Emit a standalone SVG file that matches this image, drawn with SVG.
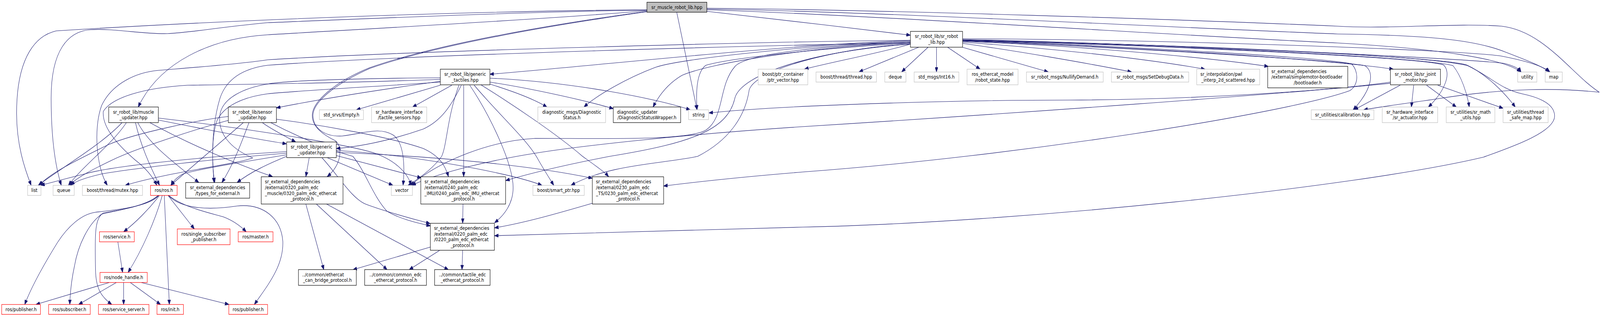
<svg xmlns="http://www.w3.org/2000/svg" width="4724" height="811" viewBox="0 0 4724 811" preserveAspectRatio="none">
<style>
svg:root{width:100vw;height:100vh}
.e{fill:none;stroke:#191970;stroke-width:1.1;marker-end:url(#a)}
rect{fill:#fff;stroke-width:1.2}
.doc rect{stroke:#000}
.und rect{stroke:#bfbfbf}
.ros rect{stroke:#ff0000}
.top rect{fill:#bfbfbf;stroke:#000}
text{font-family:'DejaVu Sans','Liberation Sans',sans-serif;font-size:12.5px;fill:#000}
.c{text-anchor:middle}
.l{text-anchor:start}
</style>
<defs>
<marker id="a" markerUnits="userSpaceOnUse" viewBox="0 0 12 9" refX="12" refY="4.5" markerWidth="12" markerHeight="9" orient="auto">
<path d="M0,0L12,4.5L0,9Z" fill="#191970" stroke="#191970"/>
</marker>
</defs>
<rect x="0" y="0" width="4724" height="811" fill="#fff" stroke="none"/>
<g id="edges">
<path class="e" d="M2087,29 C2250,45 2500,70 2688,90"/>
<path class="e" d="M1910,27 C1700,45 1000,78 790,89 C620,98 470,160 408,274"/>
<path class="e" d="M1998,31 L2058,281"/>
<path class="e" d="M1910,25 C1400,28 700,50 166,79 C110,90 49,140 49,290 C49,370 72,430 92,474"/>
<path class="e" d="M1910,26 C1500,30 900,55 790,58 C640,70 560,84 494,86 C430,88 330,72 267,76 C200,80 151,130 151,250 C151,360 165,430 181,474"/>
<path class="e" d="M1910,29 C1650,60 1300,110 1092,173 C1000,205 925,255 922,293 C920,325 955,345 990,360 C1012,375 1010,420 966,452"/>
<path class="e" d="M1910,30 C1650,62 1300,112 1092,175 C1000,210 925,258 924,295 C925,330 960,350 1010,348 C1080,340 1120,325 1160,345 C1195,365 1195,430 1190,474"/>
<path class="e" d="M2087,21 C2600,25 3500,50 3950,67 C4100,75 4300,58 4434,67 C4560,80 4640,190 4722,236 C4600,225 4450,224 4242,253 C4150,265 4075,273 4026,281"/>
<path class="e" d="M2087,23 C2600,30 3500,72 3950,87 C4200,90 4350,100 4444,133 C4510,155 4555,170 4574,184"/>
<path class="e" d="M2087,25 C2600,40 3500,92 3950,110 C4250,125 4440,150 4490,184"/>
<path class="e" d="M2688,104 C2300,115 1800,165 1446,190"/>
<path class="e" d="M2688,106 C2400,115 2000,150 1933,173 C1850,200 1760,245 1724,274"/>
<path class="e" d="M2688,108 C2400,120 2100,160 2013,193 C1970,215 1945,245 1928,274"/>
<path class="e" d="M2688,110 C2400,125 2150,150 2084,167 C2055,185 2055,240 2058,281"/>
<path class="e" d="M2688,113 C2600,135 2450,160 2375,177"/>
<path class="e" d="M2712,121 L2536,184"/>
<path class="e" d="M2740,121 L2662,184"/>
<path class="e" d="M2765,121 L2765,184"/>
<path class="e" d="M2798,121 L2894,177"/>
<path class="e" d="M2842,121 L3095,184"/>
<path class="e" d="M2842,111 C3000,130 3200,160 3341,184"/>
<path class="e" d="M2842,108 C3050,120 3350,145 3558,177"/>
<path class="e" d="M2842,106 C3150,115 3550,145 3745,170"/>
<path class="e" d="M2842,104 C3300,118 3900,150 4114,177"/>
<path class="e" d="M2842,105 C3400,125 3950,155 4030,168 C4060,185 4050,230 3995,281"/>
<path class="e" d="M2842,104 C3500,118 4200,148 4262,166 C4285,185 4270,230 4217,274"/>
<path class="e" d="M2842,103 C3500,116 4220,148 4290,168 C4315,195 4332,240 4338,274"/>
<path class="e" d="M2842,103 C3500,114 4250,145 4330,166 C4390,190 4445,240 4474,274"/>
<path class="e" d="M2842,101 C3400,112 4300,148 4440,162 C4470,168 4485,176 4491,184"/>
<path class="e" d="M2842,99 C3500,102 4300,128 4430,143 C4520,158 4560,172 4576,184"/>
<path class="e" d="M2842,102 C3500,115 4200,140 4333,168 C4400,195 4430,228 4494,240 C4560,252 4590,272 4590,297 C4590,340 4450,380 4380,402 C4000,480 3000,570 2370,581 C2000,592 1650,600 1460,603"/>
<path class="e" d="M2842,103 C3400,122 3880,145 3990,163 C4012,182 4012,218 3985,232 C3800,290 3000,400 2370,440 C2200,452 2050,466 1959,476"/>
<path class="e" d="M2688,112 C2450,125 2230,180 2212,230 C2200,300 2150,360 2060,400 C1950,420 1800,420 1686,474"/>
<path class="e" d="M2688,108 C2400,118 2200,140 2170,170 C2120,220 2140,300 2084,333 C2030,360 1800,354 1580,354 C1450,360 1300,410 1212,474"/>
<path class="e" d="M2688,113 C2400,130 2190,190 2170,250 C2150,330 2050,365 1800,400 C1650,425 1560,445 1493,462"/>
<path class="e" d="M2688,110 C2300,115 1200,140 790,167 C720,175 670,200 650,250 C625,320 625,400 632,467"/>
<path class="e" d="M2688,103 C2300,106 1200,130 790,153 C700,165 520,176 468,180 C400,185 330,215 300,270 C275,330 285,430 317,474"/>
<path class="e" d="M1300,208 C1100,232 920,258 816,276"/>
<path class="e" d="M1300,218 L1052,281"/>
<path class="e" d="M1334,218 L1218,274"/>
<path class="e" d="M1362,218 C1330,275 1300,310 1250,330 C1150,360 1060,375 993,380"/>
<path class="e" d="M1369,218 L1369,452"/>
<path class="e" d="M1387,218 C1450,300 1515,420 1515,480 C1515,520 1490,550 1460,570"/>
<path class="e" d="M1446,200 C1700,210 1950,255 2038,281"/>
<path class="e" d="M1446,210 C1560,225 1720,255 1811,278"/>
<path class="e" d="M1446,215 C1520,235 1580,255 1615,274"/>
<path class="e" d="M1420,217 C1500,260 1640,340 1720,400 C1760,425 1785,440 1797,452"/>
<path class="e" d="M1400,218 C1480,300 1560,360 1590,410 C1610,440 1625,460 1635,474"/>
<path class="e" d="M1300,203 C1100,210 800,215 554,218 C420,225 330,250 305,285 C300,330 360,380 400,410 C430,430 450,450 463,474"/>
<path class="e" d="M1300,210 C1100,222 880,232 790,240 C720,248 660,270 640,310 C625,350 625,420 634,467"/>
<path class="e" d="M1355,218 C1320,300 1320,370 1304,400 C1280,430 1240,455 1205,474"/>
<path class="e" d="M1300,199 C1100,200 850,205 790,215 C720,225 660,250 650,290 C640,340 680,380 746,404 C700,420 500,440 370,474"/>
<path class="e" d="M775,314 C800,330 840,348 873,363"/>
<path class="e" d="M674,298 C600,305 400,340 320,370 C250,400 150,440 116,474"/>
<path class="e" d="M674,308 C580,330 400,380 330,410 C270,435 225,455 206,474"/>
<path class="e" d="M718,314 L504,474"/>
<path class="e" d="M735,314 C715,360 690,420 655,467"/>
<path class="e" d="M816,305 C950,320 1150,350 1250,380 C1300,400 1315,425 1324,452"/>
<path class="e" d="M800,314 C900,360 1000,390 1042,400 C1080,440 1100,500 1142,540 C1180,560 1230,570 1271,578"/>
<path class="e" d="M467,307 C600,330 750,355 846,368"/>
<path class="e" d="M467,302 C700,325 1000,365 1100,390 C1170,410 1205,445 1214,474"/>
<path class="e" d="M360,314 C300,370 180,430 113,474"/>
<path class="e" d="M373,314 C330,370 250,420 202,474"/>
<path class="e" d="M400,314 C415,370 440,420 471,474"/>
<path class="e" d="M407,314 C440,370 520,420 587,467"/>
<path class="e" d="M443,314 C560,370 700,420 805,452"/>
<path class="e" d="M846,388 C700,395 350,420 250,445 C180,460 140,470 120,474"/>
<path class="e" d="M846,392 C650,405 400,430 300,445 C250,455 220,465 209,474"/>
<path class="e" d="M846,396 C750,410 600,430 540,445 C520,455 510,465 505,474"/>
<path class="e" d="M846,400 C790,420 740,440 700,467"/>
<path class="e" d="M913,403 L903,452"/>
<path class="e" d="M965,403 L1160,474"/>
<path class="e" d="M950,403 C1000,450 1040,510 1082,523 C1150,545 1220,560 1270,572"/>
<path class="e" d="M993,398 L1244,455"/>
<path class="e" d="M993,390 C1300,400 1580,425 1749,456"/>
<path class="e" d="M993,385 C1200,395 1500,440 1600,474"/>
<path class="e" d="M1367,522 L1366,571"/>
<path class="e" d="M1749,520 C1650,545 1550,570 1460,583"/>
<path class="e" d="M903,522 L956,690"/>
<path class="e" d="M934,522 L1143,690"/>
<path class="e" d="M964,522 L1324,690"/>
<path class="e" d="M1271,632 L1042,690"/>
<path class="e" d="M1299,640 L1208,690"/>
<path class="e" d="M1366,640 L1364,690"/>
<path class="e" d="M471,500 C440,535 400,570 365,593"/>
<path class="e" d="M479,500 C460,560 420,640 378,697"/>
<path class="e" d="M485,500 L500,779"/>
<path class="e" d="M496,500 L574,586"/>
<path class="e" d="M498,500 C540,530 620,545 660,555 C690,565 710,578 727,593"/>
<path class="e" d="M497,500 C530,530 600,540 700,527 C780,520 830,560 835,617 C838,680 790,730 751,779"/>
<path class="e" d="M469,500 C440,530 330,538 282,543 C240,548 200,580 170,620 C120,690 90,740 73,779"/>
<path class="e" d="M468,500 C430,530 330,540 305,545 C260,570 230,630 220,680 C210,720 207,750 206,779"/>
<path class="e" d="M467,500 C430,530 330,540 300,548 C280,565 280,600 282,690 C283,740 300,760 330,779"/>
<path class="e" d="M348,619 L362,697"/>
<path class="e" d="M322,723 L106,779"/>
<path class="e" d="M343,723 L232,779"/>
<path class="e" d="M365,723 L365,779"/>
<path class="e" d="M385,723 L474,779"/>
<path class="e" d="M418,723 L676,779"/>
<path class="e" d="M4134,218 L3998,281"/>
<path class="e" d="M4174,218 L4167,274"/>
<path class="e" d="M4212,218 L4300,274"/>
<path class="e" d="M4245,218 L4438,277"/>
<path class="e" d="M4105,210 C3900,235 3500,255 3160,256 C2800,256 2300,270 2093,289"/>
<path class="e" d="M4105,213 C3800,240 3000,290 2370,324 C2000,345 1700,375 1580,392 C1450,410 1300,440 1216,474"/>
</g>
<g id="n_top" class="top"><rect x="1910" y="5.7" width="177" height="25.6"/><text class="c" x="1998.5" y="22.8">sr_muscle_robot_lib.hpp</text></g>
<g id="n_sr_robot_lib" class="doc"><rect x="2688" y="80.3" width="154" height="40.4"/><text class="c" x="2765" y="97.5">sr_robot_lib/sr_robot</text><text class="c" x="2765" y="112.2">_lib.hpp</text></g>
<g id="n_muscle_updater" class="doc"><rect x="321" y="273.7" width="146.5" height="40"/><text class="c" x="394.2" y="290.7">sr_robot_lib/muscle</text><text class="c" x="394.2" y="305.4">_updater.hpp</text></g>
<g id="n_sensor_updater" class="doc"><rect x="674" y="273.7" width="142" height="40"/><text class="c" x="745" y="290.7">sr_robot_lib/sensor</text><text class="c" x="745" y="305.4">_updater.hpp</text></g>
<g id="n_generic_tactiles" class="doc"><rect x="1300" y="177" width="146.5" height="40"/><text class="c" x="1373.2" y="194">sr_robot_lib/generic</text><text class="c" x="1373.2" y="208.7">_tactiles.hpp</text></g>
<g id="n_empty" class="und"><rect x="943" y="281" width="130" height="25"/><text class="c" x="1008" y="297.8">std_srvs/Empty.h</text></g>
<g id="n_tactile_sensors" class="und"><rect x="1097" y="273.7" width="163" height="40"/><text class="c" x="1178.5" y="290.7">sr_hardware_interface</text><text class="c" x="1178.5" y="305.4">/tactile_sensors.hpp</text></g>
<g id="n_generic_updater" class="doc"><rect x="846.4" y="363.3" width="146.6" height="40"/><text class="c" x="919.7" y="380.3">sr_robot_lib/generic</text><text class="c" x="919.7" y="395">_updater.hpp</text></g>
<g id="n_diag_status" class="und"><rect x="1588" y="273.7" width="200" height="40"/><text class="c" x="1688" y="290.7">diagnostic_msgs/Diagnostic</text><text class="c" x="1688" y="305.4">Status.h</text></g>
<g id="n_diag_wrapper" class="doc"><rect x="1810.7" y="273.7" width="199" height="40"/><text class="l" x="1821.7" y="290.7">diagnostic_updater</text><text class="c" x="1910.2" y="305.4">/DiagnosticStatusWrapper.h</text></g>
<g id="n_string" class="und"><rect x="2033" y="281" width="59" height="25"/><text class="c" x="2062.5" y="297.8">string</text></g>
<g id="n_ptr_vector" class="und"><rect x="2238.5" y="177" width="146.5" height="40"/><text class="c" x="2311.7" y="194">boost/ptr_container</text><text class="c" x="2311.7" y="208.7">/ptr_vector.hpp</text></g>
<g id="n_thread" class="und"><rect x="2409.3" y="184.3" width="178.4" height="25.7"/><text class="c" x="2498.5" y="201.5">boost/thread/thread.hpp</text></g>
<g id="n_deque" class="und"><rect x="2612.3" y="184.3" width="62.5" height="25.7"/><text class="c" x="2643.5" y="201.5">deque</text></g>
<g id="n_int16" class="und"><rect x="2699" y="184.3" width="132" height="25.7"/><text class="c" x="2765" y="201.5">std_msgs/Int16.h</text></g>
<g id="n_robot_state" class="und"><rect x="2855.2" y="177" width="150.6" height="40"/><text class="c" x="2930.5" y="194">ros_ethercat_model</text><text class="c" x="2930.5" y="208.7">/robot_state.hpp</text></g>
<g id="n_nullify" class="und"><rect x="3030.5" y="184.3" width="226.7" height="25.7"/><text class="c" x="3143.8" y="201.5">sr_robot_msgs/NullifyDemand.h</text></g>
<g id="n_setdebug" class="und"><rect x="3281.4" y="184.3" width="228.3" height="25.7"/><text class="c" x="3395.5" y="201.5">sr_robot_msgs/SetDebugData.h</text></g>
<g id="n_pwl" class="und"><rect x="3533.3" y="177" width="186" height="40"/><text class="l" x="3544.3" y="194">sr_interpolation/pwl</text><text class="c" x="3626.3" y="208.7">_interp_2d_scattered.hpp</text></g>
<g id="n_bootloader" class="doc"><rect x="3742.9" y="169.7" width="236.4" height="55"/><text class="l" x="3753.9" y="186.8">sr_external_dependencies</text><text class="l" x="3753.9" y="201.5">/external/simplemotor-bootloader</text><text class="c" x="3861.1" y="216.2">/bootloader.h</text></g>
<g id="n_calibration" class="und"><rect x="3871.4" y="281" width="185" height="25"/><text class="c" x="3963.9" y="297.8">sr_utilities/calibration.hpp</text></g>
<g id="n_joint_motor" class="doc"><rect x="4105.2" y="177" width="147.7" height="40"/><text class="c" x="4179" y="194">sr_robot_lib/sr_joint</text><text class="c" x="4179" y="208.7">_motor.hpp</text></g>
<g id="n_utility" class="und"><rect x="4481" y="184.3" width="56.5" height="25.7"/><text class="c" x="4509.3" y="201.5">utility</text></g>
<g id="n_map" class="und"><rect x="4562.2" y="184.3" width="50.4" height="25.7"/><text class="c" x="4587.4" y="201.5">map</text></g>
<g id="n_actuator" class="und"><rect x="4081" y="273.7" width="163.8" height="40"/><text class="c" x="4162.9" y="290.7">sr_hardware_interface</text><text class="c" x="4162.9" y="305.4">/sr_actuator.hpp</text></g>
<g id="n_math_utils" class="und"><rect x="4270" y="273.7" width="143.6" height="40"/><text class="c" x="4341.8" y="290.7">sr_utilities/sr_math</text><text class="c" x="4341.8" y="305.4">_utils.hpp</text></g>
<g id="n_thread_safe_map" class="und"><rect x="4437.8" y="273.7" width="133" height="40"/><text class="c" x="4504.3" y="290.7">sr_utilities/thread</text><text class="c" x="4504.3" y="305.4">_safe_map.hpp</text></g>
<g id="n_list" class="und"><rect x="81.6" y="474.3" width="39.3" height="25.7"/><text class="c" x="101.3" y="491.5">list</text></g>
<g id="n_queue" class="und"><rect x="156.7" y="474.3" width="62.5" height="25.7"/><text class="c" x="188" y="491.5">queue</text></g>
<g id="n_mutex" class="und"><rect x="243.3" y="474.3" width="177.4" height="25.7"/><text class="c" x="332" y="491.5">boost/thread/mutex.hpp</text></g>
<g id="n_ros" class="ros"><rect x="444.4" y="474.3" width="78.6" height="25.7"/><text class="c" x="483.7" y="491.5">ros/ros.h</text></g>
<g id="n_types" class="doc"><rect x="548.2" y="467" width="188.9" height="40"/><text class="c" x="642.6" y="484">sr_external_dependencies</text><text class="c" x="642.6" y="498.7">/types_for_external.h</text></g>
<g id="n_0320" class="doc"><rect x="771.3" y="452.3" width="241.4" height="69.7"/><text class="l" x="782.3" y="469.4">sr_external_dependencies</text><text class="l" x="782.3" y="484.1">/external/0320_palm_edc</text><text class="l" x="782.3" y="498.8">_muscle/0320_palm_edc_ethercat</text><text class="c" x="892" y="513.5">_protocol.h</text></g>
<g id="n_vector" class="und"><rect x="1155.3" y="474.3" width="62.4" height="25.7"/><text class="c" x="1186.5" y="491.5">vector</text></g>
<g id="n_0240" class="doc"><rect x="1242.4" y="452.3" width="250.4" height="69.7"/><text class="l" x="1253.4" y="469.4">sr_external_dependencies</text><text class="l" x="1253.4" y="484.1">/external/0240_palm_edc</text><text class="l" x="1253.4" y="498.8">_IMU/0240_palm_edc_IMU_ethercat</text><text class="c" x="1367.6" y="513.5">_protocol.h</text></g>
<g id="n_smart_ptr" class="und"><rect x="1573.4" y="474.3" width="151.6" height="25.7"/><text class="c" x="1649.2" y="491.5">boost/smart_ptr.hpp</text></g>
<g id="n_0230" class="doc"><rect x="1748.8" y="452.3" width="210.6" height="69.7"/><text class="l" x="1759.8" y="469.4">sr_external_dependencies</text><text class="l" x="1759.8" y="484.1">/external/0230_palm_edc</text><text class="l" x="1759.8" y="498.8">_TS/0230_palm_edc_ethercat</text><text class="c" x="1854.1" y="513.5">_protocol.h</text></g>
<g id="n_0220" class="doc"><rect x="1270.6" y="571.3" width="189" height="69"/><text class="l" x="1281.6" y="588.1">sr_external_dependencies</text><text class="l" x="1281.6" y="602.8">/external/0220_palm_edc</text><text class="l" x="1281.6" y="617.5">/0220_palm_edc_ethercat</text><text class="c" x="1365.1" y="632.2">_protocol.h</text></g>
<g id="n_service" class="ros"><rect x="293.7" y="593" width="102.8" height="25.7"/><text class="c" x="345.1" y="610.2">ros/service.h</text></g>
<g id="n_single_sub" class="ros"><rect x="523.5" y="585.7" width="155.7" height="40.3"/><text class="c" x="601.3" y="602.8">ros/single_subscriber</text><text class="c" x="601.3" y="617.5">_publisher.h</text></g>
<g id="n_master" class="ros"><rect x="703.3" y="593" width="102.7" height="25.7"/><text class="c" x="754.6" y="610.2">ros/master.h</text></g>
<g id="n_node_handle" class="ros"><rect x="295.2" y="697" width="139.6" height="25.7"/><text class="c" x="365" y="714.2">ros/node_handle.h</text></g>
<g id="n_publisher1" class="ros"><rect x="5" y="779" width="114.4" height="25.3"/><text class="c" x="62.2" y="796.1">ros/publisher.h</text></g>
<g id="n_subscriber" class="ros"><rect x="143.6" y="779" width="122.9" height="25.3"/><text class="c" x="205" y="796.1">ros/subscriber.h</text></g>
<g id="n_service_server" class="ros"><rect x="290.7" y="779" width="149.1" height="25.3"/><text class="c" x="365.2" y="796.1">ros/service_server.h</text></g>
<g id="n_init" class="ros"><rect x="463.5" y="779" width="78.1" height="25.3"/><text class="c" x="502.5" y="796.1">ros/init.h</text></g>
<g id="n_publisher2" class="ros"><rect x="675.6" y="779" width="114.4" height="25.3"/><text class="c" x="732.8" y="796.1">ros/publisher.h</text></g>
<g id="n_can_bridge" class="doc"><rect x="881.2" y="689.7" width="170.8" height="40.3"/><text class="l" x="892.2" y="706.8">../common/ethercat</text><text class="c" x="966.6" y="721.5">_can_bridge_protocol.h</text></g>
<g id="n_common_edc" class="doc"><rect x="1076.7" y="689.7" width="182.3" height="40.3"/><text class="c" x="1167.8" y="706.8">../common/common_edc</text><text class="c" x="1167.8" y="721.5">_ethercat_protocol.h</text></g>
<g id="n_tactile_edc" class="doc"><rect x="1283.2" y="689.7" width="163.8" height="40.3"/><text class="c" x="1365.1" y="706.8">../common/tactile_edc</text><text class="c" x="1365.1" y="721.5">_ethercat_protocol.h</text></g>
</svg>
